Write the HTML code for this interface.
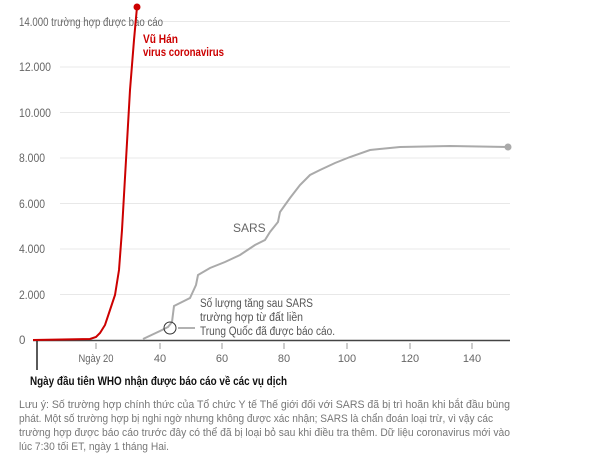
<!DOCTYPE html>
<html><head><meta charset="utf-8"><style>
body{margin:0;background:#fff;width:600px;height:456px;overflow:hidden;font-family:"Liberation Sans",sans-serif}
</style></head><body>
<svg width="600" height="456" xmlns="http://www.w3.org/2000/svg" font-family="Liberation Sans, sans-serif">
<g stroke="#e8e8e8" stroke-width="1">
<line x1="60" y1="21.5" x2="510" y2="21.5"/><line x1="60" y1="67" x2="510" y2="67"/><line x1="60" y1="112.5" x2="510" y2="112.5"/><line x1="60" y1="158" x2="510" y2="158"/><line x1="60" y1="203.5" x2="510" y2="203.5"/><line x1="60" y1="249" x2="510" y2="249"/><line x1="60" y1="294.5" x2="510" y2="294.5"/>
</g>
<g font-size="11.5" fill="#666">
<text x="19" y="26" textLength="144" lengthAdjust="spacingAndGlyphs">14.000 trường hợp được báo cáo</text>
<text x="19" y="71" textLength="32" lengthAdjust="spacingAndGlyphs">12.000</text><text x="19" y="117" textLength="32" lengthAdjust="spacingAndGlyphs">10.000</text><text x="19" y="162" textLength="26" lengthAdjust="spacingAndGlyphs">8.000</text>
<text x="19" y="208" textLength="26" lengthAdjust="spacingAndGlyphs">6.000</text><text x="19" y="253" textLength="26" lengthAdjust="spacingAndGlyphs">4.000</text><text x="19" y="299" textLength="26" lengthAdjust="spacingAndGlyphs">2.000</text><text x="19" y="344">0</text>
</g>
<line x1="33" y1="340.5" x2="510" y2="340.5" stroke="#444" stroke-width="1.5"/>
<g stroke="#999"><line x1="96" y1="343" x2="96" y2="349"/><line x1="160" y1="343" x2="160" y2="349"/><line x1="222" y1="343" x2="222" y2="349"/><line x1="284" y1="343" x2="284" y2="349"/><line x1="347" y1="343" x2="347" y2="349"/><line x1="410" y1="343" x2="410" y2="349"/><line x1="472" y1="343" x2="472" y2="349"/></g>
<g font-size="11" fill="#666" text-anchor="middle">
<text x="96" y="362" textLength="35" lengthAdjust="spacingAndGlyphs">Ngày 20</text><text x="160" y="362">40</text><text x="222" y="362">60</text><text x="284" y="362">80</text><text x="347" y="362">100</text><text x="410" y="362">120</text><text x="472" y="362">140</text>
</g>
<line x1="37" y1="341" x2="37" y2="370" stroke="#222" stroke-width="1.5"/>
<text x="30" y="385" font-size="12" font-weight="bold" fill="#111" textLength="257" lengthAdjust="spacingAndGlyphs">Ngày đầu tiên WHO nhận được báo cáo về các vụ dịch</text>
<g font-size="11" fill="#777">
<text x="19" y="408" textLength="491" lengthAdjust="spacingAndGlyphs">Lưu ý: Số trường hợp chính thức của Tổ chức Y tế Thế giới đối với SARS đã bị trì hoãn khi bắt đầu bùng</text>
<text x="19" y="422" textLength="474" lengthAdjust="spacingAndGlyphs">phát. Một số trường hợp bị nghi ngờ nhưng không được xác nhận; SARS là chẩn đoán loại trừ, vì vậy các</text>
<text x="19" y="436" textLength="491" lengthAdjust="spacingAndGlyphs">trường hợp được báo cáo trước đây có thể đã bị loại bỏ sau khi điều tra thêm. Dữ liệu coronavirus mới vào</text>
<text x="19" y="450" textLength="150" lengthAdjust="spacingAndGlyphs">lúc 7:30 tối ET, ngày 1 tháng Hai.</text>
</g>
<polyline fill="none" stroke="#aaa" stroke-width="2" points="143,339 160,331 168,327 172,322 174,306 190,298 196,285 198,275 210,268 225,262 240,255 255,245 265,240 270,232 278,222 280,212 285,205 290,198 300,185 310,175 320,170 335,163 350,157 370,150 400,147 450,146 508,147"/>
<circle cx="508" cy="147" r="3.5" fill="#aaa"/>
<circle cx="170" cy="328" r="6" fill="none" stroke="#333" stroke-width="1"/>
<line x1="178" y1="328" x2="195" y2="328" stroke="#999" stroke-width="1.5"/>
<text x="233" y="232" font-size="12" fill="#666">SARS</text>
<g font-size="11.5" fill="#555"><text x="200" y="307" textLength="113" lengthAdjust="spacingAndGlyphs">Số lượng tăng sau SARS</text><text x="200" y="321" textLength="103" lengthAdjust="spacingAndGlyphs">trường hợp từ đất liền</text><text x="200" y="335" textLength="135" lengthAdjust="spacingAndGlyphs">Trung Quốc đã được báo cáo.</text></g>
<polyline fill="none" stroke="#c00" stroke-width="2" points="33,340 90,339 96,337 100,333 105,325 110,310 115,295 119,270 122,230 126,160 130,90 134,40 137,7"/>
<circle cx="137" cy="7" r="3.5" fill="#c00"/>
<g font-size="12" font-weight="bold" fill="#c00"><text x="143" y="43" textLength="35" lengthAdjust="spacingAndGlyphs">Vũ Hán</text><text x="143" y="56" textLength="81" lengthAdjust="spacingAndGlyphs">virus coronavirus</text></g>
</svg>
</body></html>
